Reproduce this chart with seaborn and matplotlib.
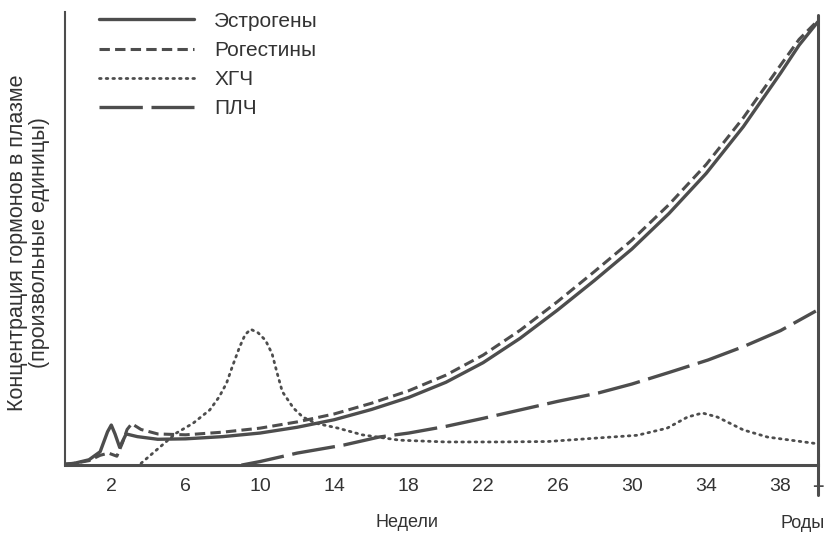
import numpy as np
import pandas as pd
import matplotlib
matplotlib.use("Agg")
import matplotlib.pyplot as plt
import seaborn as sns
from matplotlib.lines import Line2D

# weeks of pregnancy and hormone levels (arbitrary units)
est_weeks = [-0.5, 0, 0.8, 1.4, 1.8, 2.0, 2.2, 2.45, 2.8, 3.4, 4.5, 6, 8, 10, 12, 14, 16, 18,
             20, 22, 24, 26, 28, 30, 32, 34, 36, 38, 39, 40]
estrogens = [0.2, 0.4, 1.2, 3.0, 7.5, 9.0, 7.0, 4.0, 7.0, 6.4, 5.8, 5.9, 6.4, 7.2, 8.5, 10.2,
             12.5, 15.2, 18.6, 23.0, 28.5, 34.8, 41.5, 48.5, 56.5, 65.5, 76.0, 88.0, 94.3, 99.5]

prog_weeks = [-0.5, 0, 0.8, 1.4, 1.85, 2.3, 2.6, 2.85, 3.1, 3.6, 4.5, 6, 8, 10, 12, 14, 16, 18,
              20, 22, 24, 26, 28, 30, 32, 34, 36, 38, 39, 40]
progestins = [0.2, 0.4, 1.0, 2.2, 2.7, 2.0, 5.0, 8.0, 9.3, 8.0, 7.0, 6.8, 7.4, 8.3, 9.7, 11.5,
              13.9, 16.7, 20.2, 24.7, 30.3, 36.7, 43.5, 50.5, 58.5, 67.5, 78.0, 89.8, 95.6, 99.8]

hcg_weeks = [3.6, 4.6, 5.5, 6.4, 7.3, 7.8, 8.2, 8.5, 8.9, 9.2, 9.5, 9.9, 10.3, 10.65, 10.9,
             11.2, 11.8, 12.3, 13.0, 14.2, 15.5, 17.5, 20, 22.8, 25.5, 28.2, 30.3, 31.9, 33.0,
             33.8, 34.6, 36.0, 37.3, 39.8]
hcg = [0.4, 4.0, 7.2, 9.4, 12.4, 15.3, 18.4, 22.0, 26.5, 29.3, 30.5, 29.7, 28.0, 25.0, 21.0,
       16.5, 12.8, 10.8, 9.4, 8.3, 6.8, 5.6, 5.2, 5.2, 5.3, 6.1, 6.7, 8.3, 10.8, 11.7, 10.8,
       7.9, 6.3, 4.9]

plh_weeks = [9, 10, 12, 14.5, 16.4, 18, 20, 22, 24, 26, 28.2, 30, 32, 34.1, 36, 38, 39.9]
plh = [0, 0.8, 2.7, 4.5, 6.3, 7.2, 8.7, 10.5, 12.4, 14.3, 16.2, 18.2, 20.8, 23.6, 26.6, 30.2, 34.6]

labels = ["Эстрогены", "Рогестины", "ХГЧ", "ПЛЧ"]
major_ticks = [2, 6, 10, 14, 18, 22, 26, 30, 34, 38]
minor_ticks = [4, 8, 12, 16, 20, 24, 28, 32, 36]

sns.set_style("white")
plt.rcParams["font.family"] = ["Liberation Sans", "DejaVu Sans"]

col = "#4d4d4d"
txt = "#333333"
fig = plt.figure(figsize=(8.31, 5.34), dpi=100)
ax = fig.add_axes([0.078, 0.129, 0.906, 0.849])

series = [
    (est_weeks, estrogens, labels[0], dict(linestyle="-", linewidth=2.4)),
    (prog_weeks, progestins, labels[1], dict(linestyle=(0, (3.4, 1.7)), linewidth=2.2)),
    (hcg_weeks, hcg, labels[2], dict(linestyle=(0, (0.6, 1.8)), linewidth=2.0,
                                      dash_capstyle="round")),
    (plh_weeks, plh, labels[3], dict(linestyle=(0, (13, 2.6)), linewidth=2.4)),
]
for xs, ys, name, style in series:
    df = pd.DataFrame({"week": xs, "level": ys})
    sns.lineplot(data=df, x="week", y="level", ax=ax, color=col, label=name,
                 sort=False, **style)

ax.set_xlim(-0.5, 40)
ax.set_ylim(0, 101.8)
ax.set_yticks([])
ax.set_xticks(major_ticks)
ax.set_xticks(minor_ticks, minor=True)
ax.set_xticklabels([str(t) for t in major_ticks], fontsize=14, color=txt)
ax.tick_params(axis="x", which="major", direction="in", length=6, width=1.5,
               color=col, pad=9)
ax.tick_params(axis="x", which="minor", direction="in", length=3, width=1.2, color=col)

for s in ["top", "right"]:
    ax.spines[s].set_visible(False)
ax.spines["left"].set_linewidth(1.5)
ax.spines["left"].set_color(col)
ax.spines["bottom"].set_linewidth(2.2)
ax.spines["bottom"].set_color(col)

# delivery line at week 40
ax.add_line(Line2D([40, 40], [-0.066, 0.993], transform=ax.get_xaxis_transform(),
                   color=col, linewidth=2.2, clip_on=False))
ax.text(40, -0.05, "+", transform=ax.get_xaxis_transform(), ha="center", va="center",
        fontsize=14, fontweight="bold", color=col)
ax.text(0.98, -0.128, "Роды", transform=ax.transAxes, ha="center", va="center",
        fontsize=13, color=txt)

ax.set_xlabel("Недели", fontsize=13, color=txt)
ax.xaxis.set_label_coords(0.455, -0.108)
ax.set_ylabel("Концентрация гормонов в плазме\n(произвольные единицы)", fontsize=15.5,
              color=txt, linespacing=1.05)
ax.yaxis.set_label_coords(-0.02, 0.49)

ax.legend(loc="upper left", bbox_to_anchor=(0.046, 1.0), frameon=False, fontsize=15,
          handlelength=4.55, handletextpad=0.95, labelspacing=0.49, borderpad=0,
          borderaxespad=0, labelcolor=txt)

plt.savefig("out.png", dpi=100)
plt.close()
